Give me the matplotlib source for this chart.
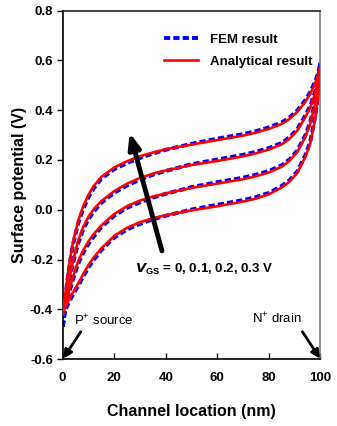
import matplotlib
matplotlib.use("Agg")
import matplotlib.pyplot as plt

FAM = ['Liberation Sans', 'DejaVu Sans']
plt.rcParams['font.family'] = FAM
plt.rcParams['mathtext.fontset'] = 'custom'
plt.rcParams['mathtext.rm'] = 'Liberation Sans'
plt.rcParams['mathtext.it'] = 'Liberation Sans:italic'
plt.rcParams['mathtext.bf'] = 'Liberation Sans:bold'

# Channel location (nm)
x = [0, 1, 2, 3, 4, 6, 8, 10, 12, 15, 20, 25, 30, 35, 40, 50, 60, 70, 75, 80, 85, 88, 91, 94, 96, 98, 99, 100]

# Analytical result (V), VGS = 0.3, 0.2, 0.1, 0 V
ana_03 = [-0.42, -0.34, -0.26, -0.19, -0.13, -0.045, 0.015, 0.06, 0.095, 0.132, 0.17, 0.195, 0.215, 0.23, 0.243, 0.262, 0.28, 0.298, 0.31, 0.325, 0.345, 0.365, 0.393, 0.432, 0.465, 0.51, 0.54, 0.58]
ana_02 = [-0.42, -0.37, -0.315, -0.255, -0.205, -0.125, -0.068, -0.028, 0.002, 0.035, 0.075, 0.105, 0.128, 0.145, 0.158, 0.18, 0.196, 0.215, 0.227, 0.242, 0.263, 0.285, 0.318, 0.37, 0.41, 0.47, 0.515, 0.58]
ana_01 = [-0.42, -0.385, -0.345, -0.305, -0.27, -0.207, -0.162, -0.127, -0.098, -0.063, -0.017, 0.015, 0.037, 0.053, 0.066, 0.088, 0.105, 0.123, 0.135, 0.15, 0.173, 0.197, 0.232, 0.29, 0.345, 0.43, 0.495, 0.58]
ana_00 = [-0.42, -0.392, -0.37, -0.35, -0.332, -0.296, -0.258, -0.222, -0.192, -0.155, -0.105, -0.072, -0.05, -0.034, -0.022, -0.002, 0.014, 0.033, 0.045, 0.062, 0.09, 0.113, 0.148, 0.21, 0.265, 0.37, 0.45, 0.58]

# FEM result (V)
fem_03 = [-0.47, -0.35, -0.27, -0.20, -0.14, -0.055, 0.005, 0.05, 0.085, 0.125, 0.163, 0.188, 0.208, 0.226, 0.241, 0.265, 0.286, 0.304, 0.316, 0.331, 0.351, 0.371, 0.399, 0.439, 0.472, 0.517, 0.547, 0.59]
fem_02 = [-0.47, -0.38, -0.325, -0.265, -0.215, -0.135, -0.078, -0.038, -0.008, 0.028, 0.068, 0.098, 0.121, 0.141, 0.156, 0.183, 0.202, 0.221, 0.233, 0.248, 0.269, 0.291, 0.324, 0.377, 0.417, 0.477, 0.522, 0.59]
fem_01 = [-0.47, -0.395, -0.355, -0.315, -0.28, -0.217, -0.172, -0.137, -0.108, -0.07, -0.024, 0.008, 0.030, 0.049, 0.064, 0.091, 0.111, 0.129, 0.141, 0.156, 0.179, 0.203, 0.238, 0.297, 0.352, 0.437, 0.502, 0.59]
fem_00 = [-0.47, -0.402, -0.38, -0.36, -0.342, -0.306, -0.268, -0.232, -0.202, -0.162, -0.112, -0.079, -0.057, -0.038, -0.024, 0.001, 0.02, 0.039, 0.051, 0.068, 0.096, 0.119, 0.154, 0.217, 0.272, 0.377, 0.457, 0.59]

ana = [ana_00, ana_01, ana_02, ana_03]
fem = [fem_00, fem_01, fem_02, fem_03]

yticks = [-0.6, -0.4, -0.2, 0.0, 0.2, 0.4, 0.6, 0.8]
xticks = [0, 20, 40, 60, 80, 100]

fig = plt.figure(figsize=(3.37, 4.26), dpi=100)
ax = fig.add_axes([0.186, 0.157, 0.765, 0.818])

for i, (a, f) in enumerate(zip(ana, fem)):
    ax.plot(x, f, color='#0000ff', lw=2.8, ls=(0, (1.6, 0.8)),
            label='FEM result' if i == 0 else None, zorder=2)
    ax.plot(x, a, color='#ff0000', lw=1.9,
            label='Analytical result' if i == 0 else None, zorder=3)

ax.set_xlim(0, 100)
ax.set_ylim(-0.6, 0.8)
ax.set_xticks(xticks)
ax.set_yticks(yticks)
ax.set_yticklabels([f"{v:.1f}" for v in yticks])
ax.tick_params(axis='x', direction='in', length=4, width=1, top=False, pad=9)
ax.tick_params(axis='y', direction='out', length=4, width=1, right=False, pad=3)
for lab in ax.get_xticklabels() + ax.get_yticklabels():
    lab.set_fontweight('bold')
    lab.set_fontsize(9.5)
for s in ax.spines.values():
    s.set_linewidth(1.2)
ax.spines['right'].set_color('#808080')
ax.spines['top'].set_color('#202020')

ax.set_xlabel('Channel location (nm)', fontsize=11.5, fontweight='bold', labelpad=15)
ax.set_ylabel('Surface potential (V)', fontsize=11.5, fontweight='bold', labelpad=2)

handles, labels = ax.get_legend_handles_labels()
leg = ax.legend(handles, labels, loc='upper right', bbox_to_anchor=(0.99, 0.95),
                frameon=False, prop={'weight': 'bold', 'size': 9.5}, handlelength=2.6,
                handletextpad=0.9, labelspacing=0.75, borderaxespad=0.0)

# VGS arrow
ax.annotate('', xy=(26, 0.31), xytext=(38.5, -0.165),
            arrowprops=dict(arrowstyle='-|>,head_length=0.9,head_width=0.35',
                            lw=3.5, color='black', shrinkA=0, shrinkB=0))
ax.text(28, -0.24, r'$\mathbfit{V}_{\mathbf{GS}}$' + ' = 0, 0.1, 0.2, 0.3 V', fontsize=9.5,
        fontweight='bold', ha='left', va='center')

ax.text(4.5, -0.445, r'P$^{+}$ source', fontsize=9.5, ha='left', va='center')
ax.annotate('', xy=(0.2, -0.598), xytext=(7, -0.49),
            arrowprops=dict(arrowstyle='-|>,head_length=0.5,head_width=0.25',
                            lw=2, color='black', shrinkA=0, shrinkB=0))
ax.text(83, -0.44, r'N$^{+}$ drain', fontsize=9.5, ha='center', va='center')
ax.annotate('', xy=(99.8, -0.598), xytext=(93, -0.49),
            arrowprops=dict(arrowstyle='-|>,head_length=0.5,head_width=0.25',
                            lw=2, color='black', shrinkA=0, shrinkB=0))

fig.savefig('out.png', dpi=100)
